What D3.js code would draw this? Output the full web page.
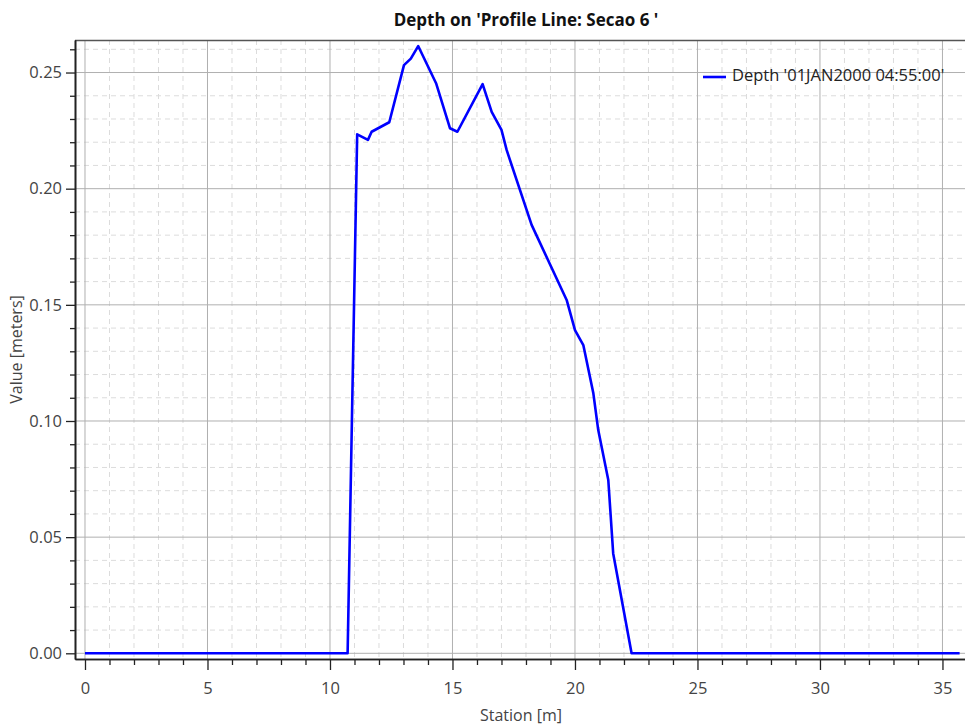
<!DOCTYPE html>
<html>
<head>
<meta charset="utf-8">
<script src="https://cdn.jsdelivr.net/npm/d3@7"></script>
<style>
  html, body { margin: 0; padding: 0; background: #fff; }
  svg { display: block; font-family: "Open Sans", "Noto Sans", sans-serif; }
</style>
</head>
<body>
<svg id="chart" width="965" height="727"></svg>
<script>
// ---- data ----
const titleText = "Depth on 'Profile Line: Secao 6 '";
const seriesName = "Depth '01JAN2000 04:55:00'";
const xLabel = "Station [m]";
const yLabel = "Value [meters]";
const station = [0, 10.72, 11.11, 11.55, 11.70, 12.42, 13.02, 13.30, 13.60, 14.33, 14.90, 15.20, 16.23, 16.60, 17.00, 17.21, 18.23, 19.66, 20.00, 20.34, 20.75, 20.95, 21.36, 21.56, 22.31, 35.70];
const depth   = [0, 0, 0.2234, 0.2210, 0.2245, 0.2286, 0.2532, 0.2560, 0.2614, 0.2454, 0.2260, 0.2245, 0.2450, 0.2331, 0.2253, 0.2167, 0.1844, 0.1521, 0.1391, 0.1327, 0.1119, 0.0961, 0.0746, 0.0430, 0, 0];
const xTicks = [0, 5, 10, 15, 20, 25, 30, 35];
const yTicks = [0.00, 0.05, 0.10, 0.15, 0.20, 0.25];

// ---- layout ----
const svg = d3.select("#chart");
const L = 75, R = 965, T = 40, B = 659;
const x = d3.scaleLinear().domain([-0.408, 35.92]).range([L, R]);
const y = d3.scaleLinear().domain([-0.00245, 0.2640]).range([B, T]);

const xMinor = d3.range(0, 36, 1).filter(v => v % 5 !== 0);
const yMinor = d3.range(1, 27).map(v => v / 100).filter(v => Math.round(v * 100) % 5 !== 0 && v < 0.264);

const g = svg.append("g");

// minor grid
g.selectAll(".gxm").data(xMinor).enter().append("line")
  .attr("x1", d => x(d)).attr("x2", d => x(d)).attr("y1", T).attr("y2", B)
  .attr("stroke", "#dcdcdc").attr("stroke-width", 1).attr("stroke-dasharray", "5,4");
g.selectAll(".gym").data(yMinor).enter().append("line")
  .attr("y1", d => y(d)).attr("y2", d => y(d)).attr("x1", L).attr("x2", R)
  .attr("stroke", "#dcdcdc").attr("stroke-width", 1).attr("stroke-dasharray", "5,4");
// major grid
g.selectAll(".gx").data(xTicks).enter().append("line")
  .attr("x1", d => x(d)).attr("x2", d => x(d)).attr("y1", T).attr("y2", B)
  .attr("stroke", "#b0b0b0").attr("stroke-width", 1);
g.selectAll(".gy").data(yTicks).enter().append("line")
  .attr("y1", d => y(d)).attr("y2", d => y(d)).attr("x1", L).attr("x2", R)
  .attr("stroke", "#b0b0b0").attr("stroke-width", 1);

// top border
g.append("line").attr("x1", L).attr("x2", R).attr("y1", T + 0.5).attr("y2", T + 0.5)
  .attr("stroke", "#555").attr("stroke-width", 1.5);

// axes
const xAxis = d3.axisBottom(x).tickValues(xTicks).tickFormat(d3.format("d")).tickSizeInner(11).tickSizeOuter(0).tickPadding(12);
const xAxisMinor = d3.axisBottom(x).tickValues(xMinor).tickFormat("").tickSizeInner(6).tickSizeOuter(0);
const yAxis = d3.axisLeft(y).tickValues(yTicks).tickFormat(d3.format(".2f")).tickSizeInner(9).tickSizeOuter(0).tickPadding(4);
const yAxisMinor = d3.axisLeft(y).tickValues(yMinor).tickFormat("").tickSizeInner(5).tickSizeOuter(0);

function styleAxis(sel) {
  sel.select(".domain").attr("stroke", "#222").attr("stroke-width", 1.6);
  sel.selectAll(".tick line").attr("stroke", "#222").attr("stroke-width", 1.3);
  sel.selectAll(".tick text").attr("fill", "#444").style("font-size", "16.5px")
    .style("font-family", "'Open Sans', 'Noto Sans', sans-serif");
}
svg.append("g").attr("transform", `translate(0,${B})`).call(xAxisMinor).call(styleAxis);
svg.append("g").attr("transform", `translate(0,${B})`).call(xAxis).call(styleAxis);
svg.append("g").attr("transform", `translate(${L},0)`).call(yAxisMinor).call(styleAxis);
svg.append("g").attr("transform", `translate(${L},0)`).call(yAxis).call(styleAxis);

// line
const pts = station.map((s, i) => [s, depth[i]]);
svg.append("path").datum(pts)
  .attr("d", d3.line().x(d => x(d[0])).y(d => y(d[1])))
  .attr("fill", "none").attr("stroke", "#0000ff").attr("stroke-width", 2.6)
  .attr("stroke-linejoin", "round");

// title
svg.append("text").attr("x", 526).attr("y", 26).attr("text-anchor", "middle")
  .style("font-weight", "bold").style("font-size", "17px").attr("fill", "#111").text(titleText);

// axis labels
svg.append("text").attr("x", 521).attr("y", 721).attr("text-anchor", "middle")
  .style("font-size", "16px").attr("fill", "#444").text(xLabel);
svg.append("text").attr("transform", `translate(18,${(T + B) / 2}) rotate(-90)`)
  .attr("text-anchor", "middle").attr("dominant-baseline", "middle")
  .style("font-size", "16px").attr("fill", "#444").text(yLabel);

// legend
svg.append("line").attr("x1", 703).attr("x2", 726).attr("y1", 77).attr("y2", 77)
  .attr("stroke", "#0000ff").attr("stroke-width", 2.6);
svg.append("text").attr("x", 732).attr("y", 77).attr("dominant-baseline", "middle")
  .style("font-size", "16.5px").attr("fill", "#222").text(seriesName);
</script>
</body>
</html>
